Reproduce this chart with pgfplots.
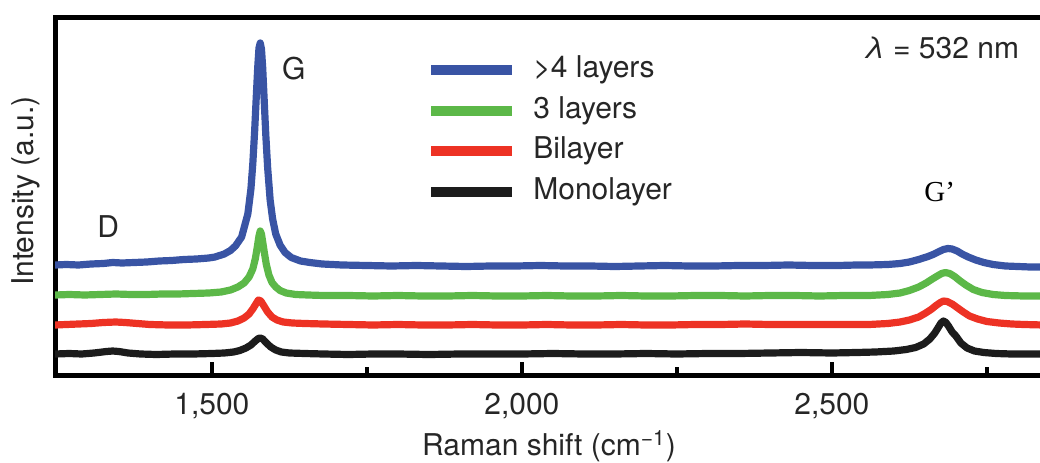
\documentclass[border=0pt]{standalone}
\usepackage{pgfplots}
\pgfplotsset{compat=1.18}
\usepackage{fontspec}
\setmainfont{TeX Gyre Heros}
\newfontfamily\serifG{Liberation Serif}

\definecolor{cBlue}{RGB}{57,84,164}
\definecolor{cGreen}{RGB}{92,184,72}
\definecolor{cRed}{RGB}{237,50,36}
\definecolor{cBlack}{RGB}{28,28,28}

\newcommand\lbl{\fontsize{15}{18}\selectfont}

\begin{document}
\begin{tikzpicture}
\useasboundingbox (0,0) rectangle (520pt,231pt);
\begin{axis}[
  at={(27.5pt,43.5pt)}, anchor=south west,
  scale only axis, width=494pt, height=178.5pt,
  xmin=1247, xmax=2840.5, ymin=0, ymax=357,
  axis line style={line width=2.5pt, black},
  xtick={1500,2000,2500},
  xticklabels={{1,500},{2,000},{2,500}},
  minor xtick={1750,2250,2750},
  ytick=\empty,
  xtick pos=bottom,
  tick align=inside,
  major tick length=6.5pt, minor tick length=4pt,
  every tick/.style={line width=2pt, black},
  xticklabel style={font=\lbl, inner sep=0pt, anchor=north, yshift=-9pt, text=black!85},
  xlabel={Raman shift (cm\textsuperscript{−1})},
  xlabel style={font=\lbl, at={(axis description cs:0.5,0)}, anchor=north, inner sep=0pt, yshift=-27.5pt, text=black!85},
  ylabel={Intensity (a.u.)},
  ylabel style={font=\lbl, at={(axis description cs:-0.0152,0.515)}, anchor=south, inner sep=0pt, text=black!85},
  legend style={at={(0.3755,0.896)}, anchor=north west, draw=none, fill=none,
    inner sep=0pt, row sep=5.8pt, font=\lbl,
    nodes={inner sep=0pt, text height=11pt, text depth=3.5pt, text=black!85},
    /tikz/every odd column/.append style={column sep=8pt}},
  legend cell align=left,
  legend image code/.code={\draw[#1, line width=5pt] (0pt,0pt) -- (40.5pt,0pt);},
  every axis plot/.append style={line width=3.6pt, line join=round, no markers},
]
% >4 layers
\addplot[cBlue] coordinates {
(1247,110) (1265,110.5) (1285,110) (1305,111) (1325,111.5) (1340,112.5) (1355,112)
(1375,112.5) (1395,113) (1415,114) (1435,114.5) (1455,115.5) (1475,116) (1495,117)
(1505,118) (1520,121) (1530,124.5) (1538,129) (1548,138) (1558,161) (1563,186)
(1566,211) (1569,244) (1572,283) (1574,308) (1576,327) (1578,332) (1580,326)
(1582,307) (1584,280) (1587,240) (1590,207) (1594,175) (1598,156) (1603,141)
(1610,130) (1618,122.5) (1628,117.5) (1643,114) (1658,112.5) (1678,111) (1710,110)
(1750,109.5) (1790,109) (1830,109.5) (1870,109) (1910,108.5) (1950,109) (1990,109)
(2030,109.5) (2070,109) (2110,109) (2150,108.5) (2190,109) (2230,109.5) (2270,109)
(2310,109) (2350,109.5) (2390,109.5) (2430,110) (2470,109.5) (2510,109.5) (2540,110)
(2560,110) (2590,110.5) (2610,111.5) (2625,113) (2640,115.5) (2655,118.5) (2665,121)
(2673,123.5) (2680,125.5) (2687,126.5) (2694,126) (2702,124) (2710,121) (2720,118)
(2732,115) (2745,112.5) (2760,110.5) (2780,109) (2800,108.5) (2820,108) (2841,108)
};
\addlegendentry{>4 layers}
% 3 layers
\addplot[cGreen] coordinates {
(1247,80) (1270,80.5) (1295,80) (1320,80.5) (1345,81) (1370,80.5) (1395,80.5)
(1420,81) (1445,81) (1470,81.5) (1495,82) (1515,83) (1530,85) (1542,88) (1552,92)
(1560,98) (1566,106) (1570,116) (1573,127) (1576,139) (1578,144) (1580,141)
(1582,133) (1585,121) (1588,110) (1592,100) (1597,92.5) (1603,88) (1610,84.5)
(1620,82) (1635,80.5) (1655,80) (1680,79.5) (1720,79.5) (1760,79) (1800,79.5)
(1840,79) (1880,79) (1920,79.5) (1960,79) (2000,79) (2040,79.5) (2080,79) (2120,79)
(2160,79.5) (2200,79) (2240,79) (2280,79.5) (2320,79.5) (2360,79) (2400,79.5)
(2440,79.5) (2480,79) (2520,79.5) (2560,79.5) (2590,80.5) (2610,82) (2625,84.5)
(2640,88) (2652,92) (2662,96) (2670,99) (2677,101.5) (2683,102.5) (2690,101.5)
(2698,98.5) (2707,94) (2716,90) (2728,85.5) (2742,82.5) (2760,80.5) (2780,79.5)
(2810,79) (2841,79)
};
\addlegendentry{3 layers}
% Bilayer
\addplot[cRed] coordinates {
(1247,50) (1265,50.5) (1285,51) (1305,51.5) (1325,52.5) (1345,53) (1360,52.5)
(1380,51.5) (1400,50.5) (1430,50) (1460,50) (1490,50.5) (1515,51) (1530,52)
(1542,54) (1552,57) (1560,61) (1566,66) (1571,71) (1575,75) (1579,74) (1584,69)
(1590,63) (1597,58) (1605,55) (1615,53) (1630,52) (1650,51.5) (1680,51) (1720,50.5)
(1760,50) (1800,50.5) (1840,50) (1880,50) (1920,50.5) (1960,50) (2000,50) (2040,50.5)
(2080,50) (2120,50) (2160,50.5) (2200,50) (2240,50) (2280,50.5) (2320,50.5) (2360,51)
(2400,50.5) (2440,50.5) (2480,50.5) (2520,50.5) (2560,50.5) (2590,51.5) (2610,53)
(2625,55) (2640,58) (2650,61.5) (2660,65.5) (2668,69.5) (2675,72.5) (2680,74)
(2686,73.5) (2694,71) (2703,67) (2712,63) (2722,59) (2735,56) (2750,53.5) (2770,52)
(2790,51) (2810,50.5) (2841,50)
};
\addlegendentry{Bilayer}
% Monolayer
\addplot[cBlack] coordinates {
(1247,21) (1270,21.5) (1290,21) (1310,22) (1330,23.5) (1340,24) (1350,23.5)
(1365,22) (1385,21) (1410,20.5) (1440,21) (1470,21) (1500,21.5) (1520,22) (1535,23)
(1545,24.5) (1555,27) (1563,30) (1570,34) (1575,36.5) (1578,37) (1582,36) (1588,32)
(1595,28) (1603,25) (1612,23) (1625,22) (1650,21.5) (1680,21) (1720,20.5) (1760,21)
(1800,21) (1850,20.5) (1900,21) (1950,21) (2000,21) (2050,21.5) (2100,21) (2150,21)
(2200,21.5) (2250,21) (2300,21.5) (2350,21.5) (2400,22) (2450,22.5) (2500,22)
(2540,22.5) (2570,23) (2600,24) (2620,25.5) (2635,27.5) (2648,31) (2658,36)
(2666,42) (2672,48) (2676,52) (2680,54) (2684,52.5) (2688,49) (2694,43) (2700,39)
(2708,32) (2718,27) (2730,24) (2745,22.5) (2765,21.5) (2790,21) (2815,21) (2841,21)
};
\addlegendentry{Monolayer}

% peak labels
\node[font=\lbl, text=black!85] at (axis cs:1632,306.5) {G};
\node[font=\lbl, text=black!85] at (axis cs:1333,148.5) {D};
\node[font={\serifG\fontsize{14.5}{17}\selectfont}] at (axis cs:2674,182.5) {G’};
\node[font=\lbl, text=black!85] at (axis cs:2677,327) {\textit{λ} = 532 nm};
\end{axis}
\end{tikzpicture}
\end{document}
